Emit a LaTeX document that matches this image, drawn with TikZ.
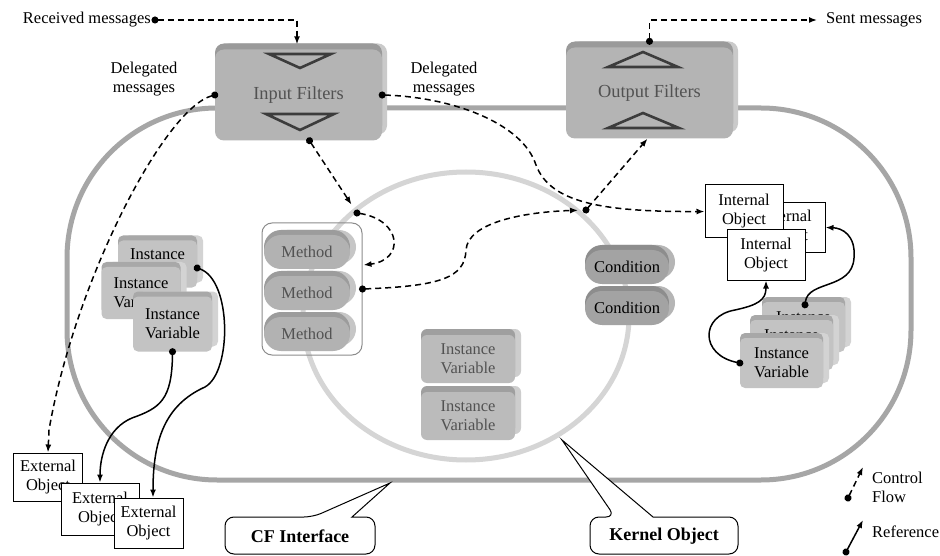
\documentclass[tikz,border=0pt]{standalone}
\usepackage{fontspec}
\setmainfont{Liberation Serif}
\usetikzlibrary{arrows.meta,shapes.misc,shadows,calc}

\definecolor{rimgray}{HTML}{A6A6A6}
\definecolor{kerngray}{HTML}{D5D5D5}
\definecolor{filterface}{HTML}{B4B4B4}
\definecolor{filtertop}{HTML}{9A9A9A}
\definecolor{filterside}{HTML}{CACACA}
\definecolor{methodface}{HTML}{B2B2B2}
\definecolor{methodtop}{HTML}{9C9C9C}
\definecolor{methodside}{HTML}{C6C6C6}
\definecolor{condface}{HTML}{A3A3A3}
\definecolor{condtop}{HTML}{8D8D8D}
\definecolor{condside}{HTML}{B5B5B5}
\definecolor{cubeface}{HTML}{C3C3C3}
\definecolor{cubetop}{HTML}{A8A8A8}
\definecolor{cubeside}{HTML}{D3D3D3}
\definecolor{ivface}{HTML}{BBBBBB}
\definecolor{ivtop}{HTML}{9F9F9F}
\definecolor{ivside}{HTML}{CDCDCD}
\definecolor{softtext}{HTML}{525252}
\definecolor{triline}{HTML}{3C3C3C}
\definecolor{framegray}{HTML}{8C8C8C}

\begin{document}
\begin{tikzpicture}[x=1pt,y=-1pt,
  every node/.style={inner sep=0pt, align=center, font=\fontsize{16.5}{19}\selectfont},
  rim/.style={draw=rimgray, line width=5pt, rounded corners=150pt},
  kernring/.style={draw=kerngray, line width=5pt},
  filterbox/.style={rectangle, rounded corners=9pt, fill=filterface,
    minimum width=167pt, minimum height=91pt, text=softtext,
    font=\fontsize{18.4}{21}\selectfont,
    copy shadow={shadow xshift=5pt, shadow yshift=6pt, fill=filterside, draw=none},
    copy shadow={shadow xshift=0pt, shadow yshift=6pt, fill=filtertop, draw=none}},
  tri/.style={draw=triline, line width=2.6pt, line join=miter},
  methodframe/.style={rectangle, draw=framegray, line width=1pt, rounded corners=10pt,
    minimum width=100pt, minimum height=132pt},
  pill/.style={rounded rectangle, minimum width=86pt, minimum height=34pt,
    fill=methodface, text=softtext,
    copy shadow={shadow xshift=6pt, shadow yshift=5pt, fill=methodside, draw=none},
    copy shadow={shadow xshift=0pt, shadow yshift=5pt, fill=methodtop, draw=none}},
  condpill/.style={rounded rectangle, minimum width=84pt, minimum height=34pt,
    fill=condface, text=black,
    copy shadow={shadow xshift=6pt, shadow yshift=5pt, fill=condside, draw=none},
    copy shadow={shadow xshift=0pt, shadow yshift=5pt, fill=condtop, draw=none}},
  cube/.style={rectangle, rounded corners=5pt, fill=cubeface, text=black,
    minimum width=79pt, minimum height=52pt,
    copy shadow={shadow xshift=6pt, shadow yshift=5pt, fill=cubeside, draw=none},
    copy shadow={shadow xshift=0pt, shadow yshift=5pt, fill=cubetop, draw=none}},
  ivbox/.style={rectangle, rounded corners=6pt, fill=ivface, text=softtext,
    minimum width=94pt, minimum height=48pt,
    copy shadow={shadow xshift=6pt, shadow yshift=6pt, fill=ivside, draw=none},
    copy shadow={shadow xshift=0pt, shadow yshift=6pt, fill=ivtop, draw=none}},
  objbox/.style={rectangle, draw=black, fill=white, line width=1pt,
    minimum width=78pt, minimum height=50pt},
  callout/.style={draw=black, line width=1pt, fill=white},
  calltext/.style={font=\fontsize{18}{21}\selectfont\bfseries},
  flow/.style={draw=black, line width=1.5pt, dash pattern=on 6pt off 4pt,
    -{Latex[length=8pt,width=6pt]}},
  flowdot/.style={flow, {Circle[length=7pt]}-{Latex[length=8pt,width=6pt]},
    shorten <=-3.5pt},
  link/.style={draw=black, line width=1.5pt,
    {Circle[length=7pt]}-{Latex[length=8pt,width=6pt]}, shorten <=-3.5pt}
]
\useasboundingbox[fill=white] (0,0) rectangle (940,556);

% composition-filter boundary and kernel object
\draw[rim] (67,108) rectangle (911,480);
\draw[kernring] (466,316) ellipse [x radius=163, y radius=144];

% filter modules
\node[filterbox] (inF) at (298.5,95) {Input Filters};
\node[filterbox] (outF) at (649.5,93) {Output Filters};
\draw[tri] (269,54) -- (331,54) -- (300,68) -- cycle;
\draw[tri] (266,114) -- (334,114) -- (300,130) -- cycle;
\draw[tri] (608,67) -- (678,67) -- (643,52) -- cycle;
\draw[tri] (608,128) -- (679,128) -- (643,113) -- cycle;

% methods
\node[methodframe] (mbox) at (312,289) {};
\node[pill] (m1) at (307,252) {Method};
\node[pill] (m2) at (307,293) {Method};
\node[pill] (m3) at (307,334) {Method};

% conditions
\node[condpill] (cd1) at (627,267) {Condition};
\node[condpill] (cd2) at (627,308) {Condition};

% kernel instance variables
\node[ivbox] (iv1) at (468,359) {Instance\\Variable};
\node[ivbox] (iv2) at (468,416) {Instance\\Variable};

% interface instance variables (left)
\node[cube, minimum height=47pt] (cA) at (157.5,264) {Instance\\Variable};
\node[cube] (cB) at (141,293) {Instance\\Variable};
\node[cube, minimum height=55pt] (cC) at (172.5,324) {Instance\\Variable};

% interface instance variables (right)
\node[cube, minimum width=83pt, minimum height=50pt] (R1) at (803.5,327) {Instance\\Variable};
\node[cube, minimum width=83pt, minimum height=50pt] (R2) at (791.5,345) {Instance\\Variable};
\node[cube, minimum width=83pt, minimum height=50pt] (R3) at (781.5,363) {Instance\\Variable};

% internal objects
\node[objbox] (io2) at (786,227.5) {Internal\\Object};
\node[objbox, minimum height=53pt] (io1) at (744,211.5) {Internal\\Object};
\node[objbox] (io3) at (766,255) {Internal\\Object};

% external objects
\node[objbox, minimum width=69pt, minimum height=48pt] (eA) at (48,477) {External\\Object};
\node[objbox, minimum height=52pt] (eB) at (100,509) {External\\Object};
\node[objbox, minimum width=69pt] (eC) at (148.5,523) {External\\Object};

% callouts
\draw[callout] (300,554) [rounded corners=9pt] -- (225,554) -- (225,517) -- (313,517)
  [sharp corners] -- (390,483) -- (352,517) [rounded corners=9pt] -- (375,517) -- (375,554) -- cycle;
\node[calltext] (cfi) at (300,536) {CF Interface};
\draw[callout] (664,554) [rounded corners=9pt] -- (590,554) -- (590,517) -- (615,517)
  [sharp corners] -- (562,440) -- (653,517) [rounded corners=9pt] -- (738,517) -- (738,554) -- cycle;
\node[calltext] (kob) at (664,536) {Kernel Object};

% message labels
\node[anchor=east] (rcvtxt) at (151,20) {Received messages};
\coordinate (rcv) at (155,20);
\node[anchor=west] (sent) at (826,20) {Sent messages};
\node (dlgL) at (144,79) {Delegated\\messages};
\node (dlgR) at (444,79) {Delegated\\messages};

% points on the kernel boundary
\coordinate (k1) at (357,213);
\coordinate (k2) at (586,210);

% control flow
\draw[flowdot] (rcv) -| ($(inF.north)+(-1.5,-5)$);
\draw[flowdot] (inF.west) .. controls (165,108) and (75,280) .. (49,430) -- (eA.north);
\draw[flowdot] (inF.east) .. controls (450,97) and (522,122) .. (536,165)
  .. controls (550,202) and (600,212) .. (io1.west);
\draw[flowdot, shorten >=10pt] ([xshift=11pt]inF.south) -- (k1);
\draw[flowdot] (k1) .. controls (402,220) and (405,260) .. ($(mbox.east)+(1,-24)$);
\draw[flowdot, shorten >=8pt] (mbox.east) .. controls (440,286) and (465,278) .. (466,250)
  .. controls (468,222) and (525,212) .. (k2);
\draw[flowdot] (k2) -- ($(outF.south)+(-2,0)$);
\draw[flowdot, shorten >=9pt] ($(outF.north)+(0,-6)$) |- (sent.west);

% references
\draw[link] ($(cA.east)+(0,4)$) .. controls (232,280) and (232,372) .. (205,387)
  .. controls (165,405) and (153,440) .. ($(eC.north)+(4.5,0)$);
\draw[link] (cC.south) .. controls (172,400) and (160,408) .. (132,418)
  .. controls (108,428) and (100,455) .. (eB.north);
\draw[link] ($(R1.north)+(1.5,3)$) .. controls (808,280) and (852,290) .. (854,258)
  .. controls (856,235) and (842,228) .. (io2.east);
\draw[link] (R3.west) .. controls (700,355) and (700,316) .. (735,310)
  .. controls (758,305) and (766,300) .. (io3.south);

% legend
\coordinate (lgFa) at (848,498);
\coordinate (lgFb) at (863,467);
\draw[flowdot] (lgFa) -- (lgFb);
\node[anchor=west, align=left] (lgFt) at (872,487) {Control\\Flow};
\coordinate (lgRa) at (846,552);
\coordinate (lgRb) at (863,520);
\draw[link] (lgRa) -- (lgRb);
\node[anchor=west] (lgRt) at (872,532) {Reference};
\end{tikzpicture}
\end{document}
